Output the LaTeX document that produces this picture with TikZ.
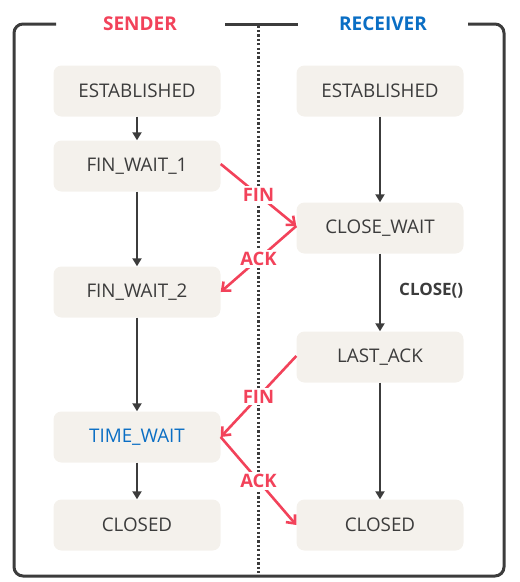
\documentclass[tikz,border=0pt]{standalone}
\usepackage{fontspec}
\setmainfont{Open Sans}
\usetikzlibrary{arrows.meta}
\definecolor{boxfill}{HTML}{F4F1EC}
\definecolor{ink}{HTML}{3C3C3C}
\definecolor{redc}{HTML}{F2425A}
\definecolor{bluec}{HTML}{0A6EC4}
\tikzset{
  state/.style={fill=boxfill, rounded corners=8pt, minimum width=167pt, minimum height=51pt, inner sep=0pt, text=ink, font=\fontsize{18.8}{22}\selectfont},
  title/.style={font=\fontsize{19}{22}\selectfont\bfseries, inner sep=0pt},
  flow/.style={draw=ink, line width=2.4pt, -{Triangle[length=8pt,width=9pt]}},
  msg/.style={draw=redc, line width=2.6pt, -{Straight Barb[length=7pt,width=12pt]}},
  msglabel/.style={fill=white, text=redc, font=\fontsize{18.5}{21}\selectfont\bfseries, inner sep=2pt},
  frame/.style={draw=ink, line width=3pt},
}
\begin{document}
\begin{tikzpicture}[x=1pt,y=-1pt]
\useasboundingbox (0,0) rectangle (520,582);
% frame
\coordinate (f1) at (56,24);
\coordinate (f2) at (468,24);
\draw[frame, rounded corners=9pt] (f1) -- (14,24) -- (14,576) -- (504,576) -- (504,24) -- (f2);
\draw[frame] (225,24) -- (298,24);
\draw[draw=ink, line width=3pt, dash pattern=on 2.2pt off 2.2pt] (258,25.5) -- (258,574.5);
\node[title, text=redc] (sender) at (140,24) {SENDER};
\node[title, text=bluec] (receiver) at (383,24) {RECEIVER};
% left
\node[state] (lest) at (137,91) {ESTABLISHED};
\node[state] (fw1) at (137,166) {FIN\_WAIT\_1};
\node[state] (fw2) at (137,292) {FIN\_WAIT\_2};
\node[state, text=bluec] (tw) at (137,437) {TIME\_WAIT};
\node[state] (lcl) at (137,525) {CLOSED};
% right
\node[state] (rest) at (380,91) {ESTABLISHED};
\node[state] (cw) at (380,228) {CLOSE\_WAIT};
\node[state] (la) at (380,357) {LAST\_ACK};
\node[state] (rcl) at (380,525) {CLOSED};
% vertical flows
\draw[flow] (lest) -- (fw1);
\draw[flow] (fw1) -- (fw2);
\draw[flow] (fw2) -- (tw);
\draw[flow] (tw) -- (lcl);
\draw[flow] (rest) -- (cw);
\draw[flow] (cw) -- node[right=18pt, text=ink, font=\fontsize{17}{20}\selectfont\bfseries, inner sep=0pt, pos=0.48] (closecall) {CLOSE()} (la);
\draw[flow] (la) -- (rcl);
% messages
\draw[msg] ([yshift=2pt]fw1.east) -- node[msglabel] (fin1) {FIN} ([yshift=2pt]cw.west);
\draw[msg] ([yshift=2pt]cw.west) -- node[msglabel] (ack1) {ACK} (fw2.east);
\draw[msg] ([yshift=1pt]la.west) -- node[msglabel] (fin2) {FIN} (tw.east);
\draw[msg] (tw.east) -- node[msglabel] (ack2) {ACK} (rcl.west);
\end{tikzpicture}
\end{document}
